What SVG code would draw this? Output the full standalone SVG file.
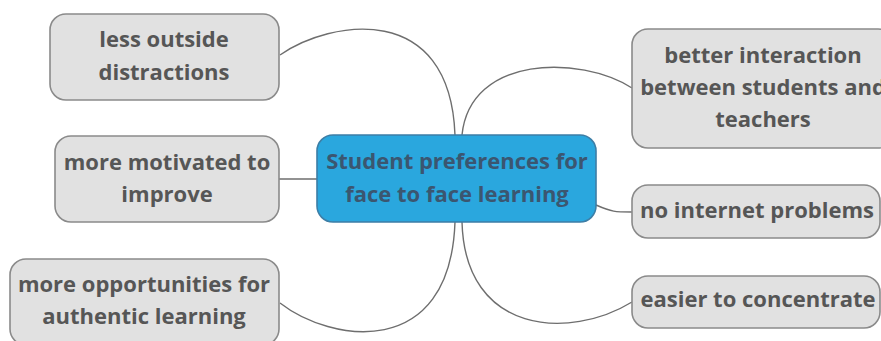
<svg xmlns="http://www.w3.org/2000/svg" width="881" height="341" viewBox="0 0 881 341">
  <style>
    .leaf rect { fill: #e1e1e1; stroke: #8a8a8a; stroke-width: 1.6; }
    .leaf text { fill: #565656; }
    .hub rect { fill: #2aa7de; stroke: #3d7ea6; stroke-width: 1.6; }
    .hub text { fill: #3b5670; }
    text { font-family: "Open Sans", "Noto Sans", "DejaVu Sans", sans-serif; font-weight: bold; font-size: 22px; text-anchor: middle; }
    .link { fill: none; stroke: #6e6e6e; stroke-width: 1.4; }
  </style>
  <rect width="881" height="341" fill="#ffffff"/>

  <!-- connectors between the central topic and its branches -->
  <g id="connectors">
    <path class="link" d="M280,55 C330,20 450,0 455,135"/>
    <path class="link" d="M462,135 C470,55 580,55 632,88"/>
    <path class="link" d="M279,179 L317,179"/>
    <path class="link" d="M596,205 C612,212 615,212 632,212"/>
    <path class="link" d="M455,222 C450,362 330,342 280,303"/>
    <path class="link" d="M462,222 C465,335 570,340 632,302"/>
  </g>

  <g id="center" class="hub">
    <rect x="317" y="135" width="279" height="87" rx="16"/>
    <text x="457" y="169">Student preferences for</text>
    <text x="457" y="202">face to face learning</text>
  </g>

  <g id="less-outside-distractions" class="leaf">
    <rect x="50" y="14" width="229" height="86" rx="16"/>
    <text x="164" y="47">less outside</text>
    <text x="164" y="80">distractions</text>
  </g>

  <g id="more-motivated" class="leaf">
    <rect x="55" y="136" width="224" height="86" rx="16"/>
    <text x="167" y="170">more motivated to</text>
    <text x="167" y="202">improve</text>
  </g>

  <g id="more-opportunities" class="leaf">
    <rect x="10" y="259" width="269" height="86" rx="16"/>
    <text x="144" y="292">more opportunities for</text>
    <text x="144" y="324">authentic learning</text>
  </g>

  <g id="better-interaction" class="leaf">
    <rect x="632" y="29" width="262" height="119" rx="16"/>
    <text x="763" y="63">better interaction</text>
    <text x="763" y="95">between students and</text>
    <text x="763" y="127">teachers</text>
  </g>

  <g id="no-internet-problems" class="leaf">
    <rect x="632" y="185" width="248" height="53" rx="16"/>
    <text x="757" y="218">no internet problems</text>
  </g>

  <g id="easier-to-concentrate" class="leaf">
    <rect x="632" y="276" width="248" height="52" rx="16"/>
    <text x="758" y="307">easier to concentrate</text>
  </g>
</svg>
